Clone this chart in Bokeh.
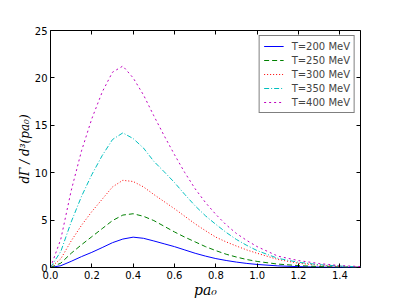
from bokeh.plotting import figure
from bokeh.models import (FixedTicker, LinearAxis, Range1d, Legend,
                          LegendItem, NumeralTickFormatter)
from bokeh.embed import file_html
from bokeh.resources import INLINE

# ---- data ----
pa0 = [0.0, 0.05, 0.1, 0.15, 0.2, 0.25, 0.3, 0.35, 0.4, 0.45, 0.5, 0.55, 0.6,
       0.65, 0.7, 0.75, 0.8, 0.85, 0.9, 0.95, 1.0, 1.1, 1.2, 1.3, 1.4, 1.5]
rate_T200 = [0, 0.19, 0.65, 1.15, 1.6, 2.1, 2.62, 3.0, 3.2, 3.08, 2.8, 2.5, 2.2,
             1.85, 1.5, 1.2, 0.94, 0.74, 0.57, 0.43, 0.32, 0.17, 0.09, 0.05, 0.02, 0.01]
rate_T250 = [0, 0.46, 1.5, 2.4, 3.25, 4.1, 4.95, 5.53, 5.67, 5.4, 4.95, 4.35, 3.75,
             3.2, 2.7, 2.2, 1.78, 1.4, 1.1, 0.84, 0.64, 0.36, 0.2, 0.1, 0.05, 0.03]
rate_T300 = [0, 0.92, 2.8, 4.45, 5.9, 7.2, 8.5, 9.2, 9.07, 8.5, 7.7, 6.95, 6.2,
             5.4, 4.6, 3.88, 3.2, 2.7, 2.26, 1.85, 1.5, 0.85, 0.45, 0.24, 0.12, 0.06]
rate_T350 = [0, 1.7, 4.8, 7.5, 9.8, 11.8, 13.5, 14.2, 13.6, 12.6, 11.2, 10.1, 8.96,
             7.7, 6.5, 5.45, 4.55, 3.7, 2.95, 2.33, 1.78, 0.97, 0.55, 0.3, 0.15, 0.07]
rate_T400 = [0, 3.0, 8.1, 12.3, 15.7, 18.5, 20.6, 21.25, 20.0, 18.2, 16.0, 13.9, 11.9,
             10.0, 8.3, 6.85, 5.6, 4.5, 3.58, 2.85, 2.2, 1.2, 0.73, 0.42, 0.2, 0.1]
series_labels = ["T=200 MeV", "T=250 MeV", "T=300 MeV", "T=350 MeV", "T=400 MeV"]
x_ticks = [0.0, 0.2, 0.4, 0.6, 0.8, 1.0, 1.2, 1.4]
y_ticks = [0, 5, 10, 15, 20, 25]

colors = ["#0000ff", "#008000", "#ff0000", "#00bfbf", "#bf00bf"]
dashes = ["solid", "5 3", "1 2", "5 2 1 2", "2 3"]

p = figure(width=400, height=300, output_backend="svg", toolbar_location=None,
           x_range=Range1d(0, 1.5), y_range=Range1d(0, 25),
           min_border_left=50, min_border_right=40, min_border_top=30,
           min_border_bottom=31)
p.xgrid.visible = False
p.ygrid.visible = False
p.outline_line_color = "black"
p.outline_line_width = 1
p.background_fill_color = "white"
p.border_fill_color = "white"

items = []
for ys, c, d, lab in zip([rate_T200, rate_T250, rate_T300, rate_T350, rate_T400],
                         colors, dashes, series_labels):
    r = p.line(pa0, ys, line_color=c, line_dash=d, line_width=1)
    items.append(LegendItem(label=lab, renderers=[r]))

legend = Legend(items=items, location="top_right", margin=5, padding=4,
                spacing=2, label_text_font="DejaVu Sans", label_text_font_size="10px",
                label_height=12, glyph_height=12, glyph_width=20, label_standoff=8,
                border_line_color="black", border_line_width=1,
                background_fill_color="white", background_fill_alpha=1)
p.add_layout(legend, "center")

def style(ax, labels=True):
    ax.axis_line_color = None
    ax.major_tick_in = 4
    ax.major_tick_out = 0
    ax.minor_tick_in = 0
    ax.minor_tick_out = 0
    ax.major_tick_line_color = "black"
    if labels:
        ax.major_label_text_font = "DejaVu Sans"
        ax.major_label_text_font_size = "10px"
        ax.major_label_text_color = "black"
        ax.major_label_standoff = 3
        ax.axis_label_text_font = "DejaVu Serif"
        ax.axis_label_text_font_style = "italic"
        ax.axis_label_text_color = "black"
        ax.axis_label_standoff = 0
    else:
        ax.major_label_text_font_size = "0px"
        ax.major_label_text_color = None

p.xaxis.ticker = FixedTicker(ticks=x_ticks)
p.xaxis.formatter = NumeralTickFormatter(format="0.0")
p.yaxis.ticker = FixedTicker(ticks=y_ticks)
p.yaxis.formatter = NumeralTickFormatter(format="0")
style(p.xaxis[0])
style(p.yaxis[0])
p.xaxis.axis_label = "pa₀"
p.xaxis.axis_label_text_font_size = "14px"
p.yaxis.axis_label = "dΓ / d³(pa₀)"
p.yaxis.axis_label_text_font_size = "12px"

top = LinearAxis(ticker=FixedTicker(ticks=x_ticks))
right = LinearAxis(ticker=FixedTicker(ticks=y_ticks))
style(top, labels=False)
style(right, labels=False)
p.add_layout(top, "above")
p.add_layout(right, "right")

open("out.html", "w").write(file_html(p, INLINE))
